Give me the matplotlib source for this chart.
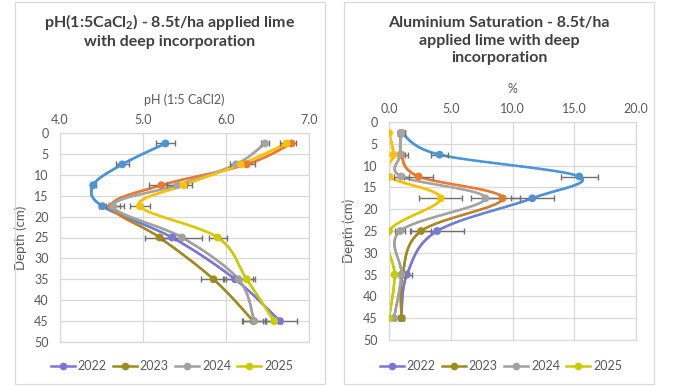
import numpy as np
import matplotlib.pyplot as plt
from matplotlib.collections import LineCollection
from matplotlib.colors import LinearSegmentedColormap
from matplotlib.lines import Line2D
from matplotlib.patches import Rectangle

plt.rcParams['font.family'] = ['Lato', 'DejaVu Sans']
plt.rcParams['mathtext.fontset'] = 'custom'
plt.rcParams['mathtext.rm'] = 'Lato'
plt.rcParams['mathtext.bf'] = 'Lato:bold'

depth = [2.5, 7.5, 12.5, 17.5, 25, 35, 45]
years = ['2022', '2023', '2024', '2025']

# pH (1:5 CaCl2)
ph_2022 = [5.27, 4.75, 4.40, 4.51, 5.35, 6.11, 6.65]
ph_2023 = [6.79, 6.25, 5.22, 4.62, 5.20, 5.85, 6.33]
ph_2024 = [6.47, 6.12, 5.41, 4.64, 5.47, 6.15, 6.34]
ph_2025 = [6.73, 6.18, 5.49, 4.96, 5.90, 6.25, 6.58]
ph_err_2022 = [0.11, 0.08, 0.03, 0.04, 0.12, 0.15, 0.20]
ph_err_2023 = [0.05, 0.10, 0.15, 0.10, 0.18, 0.15, 0.14]
ph_err_2024 = [0.05, 0.07, 0.12, 0.13, 0.24, 0.18, 0.14]
ph_err_2025 = [0.08, 0.05, 0.10, 0.12, 0.11, 0.10, 0.10]

# Aluminium saturation (%)
al_2022 = [1.0, 4.1, 15.4, 11.6, 3.9, 1.45, 1.0]
al_2023 = [1.0, 1.0, 2.4, 9.2, 2.6, 1.1, 1.0]
al_2024 = [1.0, 0.9, 1.0, 7.8, 0.9, 1.0, 0.4]
al_2025 = [0.0, 0.35, 0.0, 4.2, 0.0, 0.45, 0.0]
al_err_2022 = [0.3, 0.7, 1.5, 1.75, 2.2, 0.4, 0.2]
al_err_2023 = [0.3, 0.3, 1.2, 1.4, 0.8, 0.2, 0.2]
al_err_2024 = [0.3, 0.6, 0.6, 1.2, 0.4, 0.2, 0.2]
al_err_2025 = [0.0, 0.0, 0.0, 1.75, 0.0, 0.0, 0.0]

ph_vals = [ph_2022, ph_2023, ph_2024, ph_2025]
ph_errs = [ph_err_2022, ph_err_2023, ph_err_2024, ph_err_2025]
al_vals = [al_2022, al_2023, al_2024, al_2025]
al_errs = [al_err_2022, al_err_2023, al_err_2024, al_err_2025]

# gradient colours (top -> bottom), like the Excel gradient lines
grad = {
    '2022': ['#4A96D6', '#4A96D6', '#7A76D8', '#7A76D8'],
    '2023': ['#EE7830', '#EE7830', '#9C8C1E', '#9C8C1E'],
    '2024': ['#A5A5A5', '#A5A5A5', '#A0A0A0', '#A0A0A0'],
    '2025': ['#FFC000', '#FFC000', '#C8CC00', '#C8CC00'],
}
cmaps = {y: LinearSegmentedColormap.from_list(y, list(zip([0, 0.3, 0.55, 1], c)))
         for y, c in grad.items()}

GRID = '#D9D9D9'
TXT = '#595959'


def smooth(x, y, n=40):
    # Excel style smoothed line (bezier through the points)
    P = np.column_stack([x, y]).astype(float)
    Pe = np.vstack([P[0], P, P[-1]])
    out = []
    t = np.linspace(0, 1, n)[:, None]
    for i in range(len(P) - 1):
        p0, p1, p2, p3 = Pe[i], Pe[i + 1], Pe[i + 2], Pe[i + 3]
        c1 = p1 + (p2 - p0) / 6
        c2 = p2 - (p3 - p1) / 6
        seg = (1 - t)**3 * p1 + 3 * (1 - t)**2 * t * c1 + 3 * (1 - t) * t**2 * c2 + t**3 * p2
        out.append(seg if i == 0 else seg[1:])
    return np.vstack(out)


def draw_panel(ax, vals, errs, xlim, xticks, xlabel, xfmt):
    for yr, v, e in zip(years, vals, errs):
        cm = cmaps[yr]
        pts = smooth(v, depth)
        segs = np.stack([pts[:-1], pts[1:]], axis=1)
        frac = (0.5 * (pts[:-1, 1] + pts[1:, 1]) - 2.5) / 42.5
        lc = LineCollection(segs, colors=cm(frac), linewidths=1.8,
                            capstyle='round', zorder=2)
        ax.add_collection(lc)
        ax.errorbar(v, depth, xerr=e, fmt='none', ecolor='#707070',
                    elinewidth=1, capsize=2.5, capthick=1, zorder=3)
        mfrac = (np.array(depth) - 2.5) / 42.5
        ax.scatter(v, depth, s=32, c=cm(mfrac), zorder=4, linewidths=0)

    ax.set_xlim(*xlim)
    ax.set_ylim(50, 0)
    ax.set_xticks(xticks)
    ax.set_xticklabels([xfmt % t for t in xticks])
    ax.set_yticks(range(0, 51, 5))
    ax.xaxis.tick_top()
    ax.xaxis.set_label_position('top')
    ax.tick_params(length=0, labelsize=9, colors=TXT, pad=5)
    ax.tick_params(axis='y', pad=8)
    ax.grid(True, color=GRID, lw=0.9)
    ax.set_axisbelow(True)
    for s in ax.spines.values():
        s.set_color(GRID)
        s.set_linewidth(0.9)
    ax.set_xlabel(xlabel, fontsize=9, color=TXT)
    ax.set_ylabel('Depth (cm)', fontsize=9.5, color=TXT)


fig = plt.figure(figsize=(6.87, 3.86), dpi=100)
W, H = 687, 386

# panel frames
for x0 in (15, 344):
    fig.patches.append(Rectangle((x0 / W, 2 / H), 310 / W, 382 / H,
                                 transform=fig.transFigure, fill=False,
                                 edgecolor=GRID, lw=0.9))

ax1 = fig.add_axes([60 / W, 1 - 342 / H, 249 / W, 209 / H])
draw_panel(ax1, ph_vals, ph_errs, (4, 7), [4, 5, 6, 7], 'pH (1:5 CaCl2)', '%.1f')
ax1.xaxis.set_label_coords(0.5, 1 + 33 / 209)
ax1.xaxis.label.set_va('center')
ax1.yaxis.set_label_coords(-33 / 249, 0.5)

ax2 = fig.add_axes([389 / W, 1 - 340 / H, 247 / W, 218 / H])
draw_panel(ax2, al_vals, al_errs, (0, 20), [0, 5, 10, 15, 20], '%', '%.1f')
ax2.xaxis.set_label_coords(0.5, 1 + 33 / 218)
ax2.xaxis.label.set_va('center')
ax2.yaxis.set_label_coords(-34 / 247, 0.5)

fig.text(170 / W, 1 - 30.5 / H,
         'pH(1:5CaCl$_\\mathbf{2}$) - 8.5t/ha applied lime\nwith deep incorporation',
         ha='center', va='center', fontsize=11.5, fontweight='bold',
         color='#404040', linespacing=1.25)
fig.text(499 / W, 1 - 40.5 / H,
         'Aluminium Saturation - 8.5t/ha\napplied lime with deep\nincorporation',
         ha='center', va='center', fontsize=11.5, fontweight='bold',
         color='#404040', linespacing=1.35)

# legends
handles = [Line2D([], [], color=cmaps[y](0.85), lw=1.8, marker='o',
                  markersize=5.5, markeredgewidth=0) for y in years]
for cx in (172, 501):
    fig.legend(handles, years, loc='center', bbox_to_anchor=(cx / W, 1 - 366 / H),
               ncol=4, frameon=False, fontsize=9, handlelength=1.9,
               handletextpad=0.25, columnspacing=0.5, labelcolor=TXT)

fig.savefig('out.png', dpi=100)
